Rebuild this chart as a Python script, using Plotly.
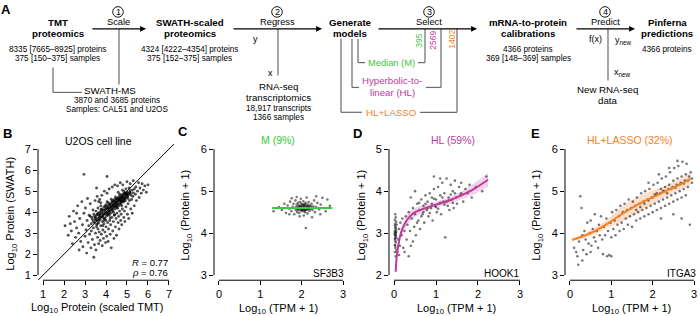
import plotly.graph_objects as go

W, H = 700, 316
FONT = "Liberation Sans, Arial, sans-serif"
GREEN = "#3cc83c"
MAGENTA = "#c0399c"
ORANGE = "#f5821f"
GRAY = "#6a6a6a"

# ---------------- data ----------------
b_pts = [(3.40,3.55),(3.45,3.80),(3.50,3.62),(3.52,4.05),(3.55,3.40),(3.58,3.90),(3.60,3.70),(3.62,4.20),(3.65,3.50),(3.68,3.85),
(3.70,4.00),(3.72,3.65),(3.75,4.30),(3.78,3.78),(3.80,3.95),(3.82,3.55),(3.85,4.10),(3.88,3.88),(3.90,4.25),(3.92,3.70),
(3.95,4.05),(3.97,3.92),(4.00,4.35),(4.02,3.80),(4.05,4.15),(4.07,4.00),(4.10,4.45),(4.12,3.90),(4.15,4.20),(4.17,4.08),
(4.20,4.40),(4.22,3.95),(4.25,4.30),(4.27,4.18),(4.30,4.55),(4.32,4.05),(4.35,4.35),(4.37,4.25),(4.40,4.60),(4.42,4.15),
(4.45,4.45),(4.47,4.32),(4.50,4.65),(4.52,4.22),(4.55,4.50),(4.57,4.40),(4.60,4.72),(4.62,4.30),(4.65,4.58),(4.67,4.48),
(4.70,4.80),(4.72,4.40),(4.75,4.65),(4.77,4.55),(4.80,4.85),(4.82,4.48),(4.85,4.70),(4.87,4.62),(4.90,4.92),(4.92,4.55),
(4.95,4.78),(4.97,4.70),(5.00,4.95),(5.05,4.65),(5.10,4.88),(5.15,5.02),(5.20,4.80),(5.25,5.05),(5.30,4.92),(5.35,5.10),
(3.60,3.45),(3.70,3.80),(3.80,4.15),(3.90,3.60),(4.00,3.95),(4.10,4.20),(4.20,4.05),(4.30,4.40),(4.40,4.30),(4.50,4.48),
(4.60,4.55),(4.70,4.62),(4.80,4.70),(4.90,4.75),(5.00,4.82),(4.05,4.50),(4.25,4.62),(4.45,4.72),(4.65,4.85),(4.85,4.98),
(3.95,3.70),(4.15,3.85),(4.35,4.00),(4.55,4.18),(4.75,4.30),(3.75,4.45),(3.85,3.35),(4.00,3.60),(4.20,3.72),(4.40,3.88),
(3.65,4.50),(4.58,4.95),(4.78,5.05),(4.95,5.10),(5.10,5.15),
(3.48,3.70),(3.58,3.62),(3.63,3.95),(3.73,3.90),(3.83,3.75),(3.93,4.10),(4.03,4.22),(4.13,4.05),(4.23,4.25),(4.33,4.28),
(4.43,4.40),(4.53,4.38),(4.63,4.62),(4.73,4.52),(4.83,4.60),(4.93,4.85),(5.03,4.75),(5.13,4.95),(3.78,4.05),(3.98,4.15),
(4.18,4.32),(4.38,4.50),(4.58,4.65),(4.78,4.78),(4.98,4.90),(3.88,3.98),(4.08,4.30),(4.28,4.48),(4.48,4.58),(4.68,4.70),
(4.88,4.88),(3.68,3.72),(4.12,3.98),(4.32,4.15),(4.52,4.30),(4.72,4.50),(4.92,4.65),(3.55,3.85),(3.45,3.50),(3.35,3.65),
(3.50,3.75),(3.66,3.60),(3.76,4.12),(3.86,3.82),(3.96,4.28),(4.06,3.88),(4.16,4.38),(4.26,4.12),(4.36,4.52),(4.46,4.25),
(4.56,4.60),(4.66,4.38),(4.76,4.72),(4.86,4.52),(4.96,4.88),(5.06,4.82),(5.16,4.90),(3.42,3.90),(3.30,3.45),(3.25,3.80),
(2.05,3.35),(2.20,2.90),(2.25,3.80),(2.35,3.10),(2.40,2.50),(2.45,4.05),(2.50,3.55),(2.55,2.80),(2.60,3.25),(2.65,4.30),
(2.70,3.00),(2.72,2.20),(2.75,3.70),(2.80,2.60),(2.85,4.50),(2.88,3.40),(2.90,2.35),(2.95,3.95),(3.00,2.85),(3.02,4.20),
(3.05,3.15),(3.08,2.05),(3.10,3.60),(3.12,4.65),(3.15,2.55),(3.18,3.35),(3.20,3.85),(3.22,2.95),(3.25,4.40),(3.28,2.30),
(3.30,3.10),(3.32,3.75),(3.35,2.70),(3.38,4.10),(3.40,3.25),(3.42,1.85),(3.45,2.45),(3.48,4.55),(3.50,3.00),(3.52,2.20),
(3.55,3.30),(3.58,4.75),(3.60,2.80),(3.62,3.20),(3.65,2.50),(3.68,3.05),(3.70,4.60),(3.72,2.65),(3.75,3.35),(3.78,2.95),
(3.80,4.80),(3.82,2.40),(3.85,3.15),(3.88,2.75),(3.90,3.45),(3.92,5.00),(3.95,3.05),(3.98,2.55),(4.00,3.30),(4.03,2.85),
(4.05,4.90),(4.08,3.50),(4.10,2.60),(4.12,3.20),(4.15,5.10),(4.18,3.60),(4.20,2.95),(4.22,3.40),(4.25,2.30),(4.28,3.75),
(4.30,5.20),(4.32,3.10),(4.35,3.55),(4.38,2.75),(4.40,3.85),(4.42,5.30),(4.45,3.30),(4.48,3.70),(4.50,2.90),(4.52,3.95),
(4.55,5.25),(4.58,3.50),(4.60,3.80),(4.62,3.20),(4.65,4.05),(4.68,5.40),(4.70,3.60),(4.72,3.90),(4.75,3.40),(4.78,4.15),
(4.80,5.30),(4.85,3.75),(4.88,4.05),(4.90,3.55),(4.95,4.25),(5.00,5.45),(5.02,3.90),(5.05,4.40),(5.08,3.70),(5.12,4.55),
(5.15,5.35),(5.18,4.15),(5.22,4.60),(5.25,3.95),(5.28,4.75),(5.30,5.50),(5.35,4.30),(5.40,4.85),(5.42,5.20),(5.45,4.55),
(5.50,5.00),(5.55,5.40),(5.58,4.70),(5.62,5.15),(5.68,4.90),(5.72,5.35),(5.78,5.05),(5.85,5.25),(5.92,4.95),(6.00,5.30),
(2.95,5.80),(4.05,5.70),(3.55,5.15),(2.60,3.95),(2.30,3.45)]
b_x = [p[0] for p in b_pts]
b_y = [p[1] for p in b_pts]
b_diag = [0.76, 7.24]

c_pts = [(1.32,4.52),(1.45,4.62),(1.52,4.55),(1.58,4.70),(1.62,4.48),(1.66,4.66),(1.70,4.58),(1.72,4.75),(1.75,4.52),(1.78,4.63),
(1.80,4.70),(1.82,4.45),(1.84,4.60),(1.85,4.78),(1.86,4.55),(1.88,4.68),(1.89,4.50),(1.90,4.62),(1.91,4.72),(1.92,4.57),
(1.93,4.66),(1.94,4.48),(1.95,4.60),(1.96,4.74),(1.97,4.54),(1.98,4.64),(1.99,4.70),(2.00,4.58),(2.01,4.52),(2.02,4.66),
(2.03,4.61),(2.04,4.76),(2.05,4.55),(2.06,4.63),(2.07,4.69),(2.08,4.50),(2.09,4.59),(2.10,4.72),(2.11,4.56),(2.12,4.65),
(2.13,4.60),(2.14,4.47),(2.15,4.68),(2.16,4.57),(2.17,4.74),(2.18,4.62),(2.19,4.53),(2.20,4.66),(2.22,4.58),(2.24,4.70),
(2.26,4.55),(2.28,4.64),(2.30,4.78),(2.32,4.50),(2.35,4.62),(2.38,4.72),(2.42,4.57),(2.46,4.68),(2.50,4.84),(2.55,4.60),
(2.62,4.80),(2.68,4.65),(1.95,4.40),(2.05,4.42),(2.10,4.12),(2.25,4.38),(1.98,4.82),(2.12,4.85),(2.35,4.88),(1.88,4.86),
(2.00,4.62),(2.02,4.57),(2.04,4.60),(2.06,4.65),(1.97,4.61),(2.08,4.56),(2.14,4.62),(1.93,4.59),(2.16,4.64),(2.01,4.68),
(1.99,4.55),(2.07,4.60),(2.45,4.45),(1.70,4.45),(2.58,4.52),(1.76,4.83),
(1.96,4.63),(2.03,4.55),(2.09,4.66),(2.11,4.60),(1.94,4.65),(2.05,4.68),(2.13,4.56),(1.99,4.60),(2.18,4.58),(1.91,4.55),
(2.22,4.64),(1.87,4.62),(2.07,4.53),(2.15,4.61)]
c_x = [p[0] for p in c_pts]
c_y = [p[1] for p in c_pts]
c_fit_x = [1.28, 2.74]
c_fit_y = [4.60, 4.60]

d_pts = [(0.02,2.55),(0.03,2.65),(0.02,2.72),(0.04,2.78),(0.03,2.82),(0.02,2.86),(0.05,2.90),(0.03,2.93),(0.02,2.96),(0.04,2.99),
(0.03,3.02),(0.02,3.05),(0.05,3.08),(0.03,3.11),(0.04,3.14),(0.02,3.18),(0.03,3.22),(0.05,3.27),(0.02,3.32),(0.04,3.38),
(0.03,2.88),(0.04,2.95),(0.02,3.00),(0.05,3.03),(0.03,2.70),(0.06,2.60),(0.04,2.45),(0.06,3.20),(0.03,3.45),
(0.08,2.55),(0.10,2.85),(0.12,3.10),(0.14,2.70),(0.15,3.25),(0.18,2.95),(0.20,3.35),(0.22,2.65),(0.25,3.05),(0.28,3.40),
(0.30,2.85),(0.32,3.20),(0.35,3.50),(0.38,3.05),(0.40,2.70),(0.42,3.35),(0.45,3.60),(0.48,3.15),(0.50,3.45),(0.52,2.95),
(0.55,3.70),(0.58,3.30),(0.60,3.55),(0.62,3.10),(0.65,3.80),(0.68,3.45),(0.70,3.65),(0.72,3.25),(0.75,3.90),(0.78,3.55),
(0.80,3.75),(0.82,3.40),(0.85,3.95),(0.88,3.60),(0.90,3.85),(0.92,3.30),(0.95,4.05),(0.98,3.65),(1.00,3.80),(1.02,3.50),
(1.05,4.10),(1.08,3.70),(1.10,3.90),(1.12,3.45),(1.15,4.20),(1.18,3.75),(1.20,3.95),(1.22,2.90),(1.25,4.30),(1.28,3.65),
(1.30,3.85),(1.32,3.55),(1.35,4.15),(1.38,3.80),(1.40,4.00),(1.42,3.60),(1.45,4.25),(1.48,3.85),(1.50,3.70),(1.55,4.10),
(1.58,3.90),(1.60,4.20),(1.65,3.75),(1.70,4.05),(1.75,3.95),(1.80,4.15),(1.85,3.85),(1.95,4.10),(2.10,4.00),(2.20,4.35),
(0.60,3.72),(0.70,3.50),(0.80,3.60),(0.90,3.70),(1.00,3.62),(1.10,3.72),(1.20,3.68),(1.30,3.78),(1.40,3.72),(0.85,3.48),
(0.95,3.82),(1.05,3.58),(1.15,3.85),(1.25,3.75),(1.35,3.92),(0.65,3.40),(0.75,3.70),(1.45,3.95),(0.55,3.25),(1.60,3.95),
(0.25,2.55),(0.35,2.45),(0.45,2.80),(0.12,2.48),(0.40,3.85),(0.50,4.00),(0.95,4.35),(1.10,4.30)]
d_x = [p[0] for p in d_pts]
d_y = [p[1] for p in d_pts]
d_fit_x = [0.04, 0.06, 0.10, 0.15, 0.20, 0.30, 0.40, 0.50, 0.70, 1.00, 1.30, 1.60, 1.90, 2.24]
d_fit_y = [2.08, 2.40, 2.70, 2.95, 3.10, 3.30, 3.42, 3.50, 3.58, 3.68, 3.77, 3.90, 4.05, 4.27]
d_lo = [2.03, 2.34, 2.62, 2.85, 2.98, 3.18, 3.30, 3.39, 3.49, 3.61, 3.69, 3.80, 3.92, 4.11]
d_hi = [2.13, 2.46, 2.78, 3.05, 3.22, 3.42, 3.54, 3.61, 3.67, 3.75, 3.85, 4.00, 4.18, 4.43]

e_pts = [(0.10,3.65),(0.15,3.55),(0.18,3.45),(0.20,3.25),(0.22,3.80),(0.25,4.88),(0.28,4.60),(0.30,3.95),(0.32,3.60),(0.35,4.05),
(0.38,3.85),(0.40,3.50),(0.42,4.25),(0.45,3.75),(0.48,4.00),(0.50,4.30),(0.52,3.70),(0.55,4.10),(0.58,3.90),(0.60,4.45),
(0.62,3.80),(0.65,4.05),(0.68,3.65),(0.70,4.20),(0.72,3.95),(0.75,4.40),(0.78,3.85),(0.80,3.50),(0.82,4.15),(0.85,3.95),
(0.88,4.35),(0.90,3.45),(0.92,4.05),(0.95,3.48),(0.98,4.25),(1.00,3.90),(1.02,4.50),(1.05,4.10),(1.08,4.30),(1.10,3.95),
(1.12,4.55),(1.15,4.20),(1.18,4.40),(1.20,4.05),(1.22,4.65),(1.25,4.25),(1.28,4.50),(1.30,4.10),(1.32,4.70),(1.35,4.35),
(1.38,4.55),(1.40,4.20),(1.42,4.80),(1.45,4.40),(1.48,4.60),(1.50,4.15),(1.52,4.75),(1.55,4.45),(1.58,4.65),(1.60,4.30),
(1.62,4.85),(1.65,4.50),(1.68,4.70),(1.70,4.35),(1.72,4.95),(1.75,4.55),(1.78,4.75),(1.80,4.40),(1.82,5.00),(1.85,4.60),
(1.88,4.80),(1.90,4.45),(1.92,5.05),(1.95,4.65),(1.98,4.85),(2.00,4.50),(2.02,5.15),(2.05,4.70),(2.08,4.90),(2.10,4.55),
(2.12,5.20),(2.15,4.75),(2.18,4.95),(2.20,4.60),(2.22,5.30),(2.25,4.80),(2.28,5.00),(2.30,4.65),(2.32,5.35),(2.35,4.85),
(2.38,5.05),(2.40,4.70),(2.42,5.45),(2.45,4.90),(2.48,5.10),(2.50,4.75),(2.52,5.55),(2.55,4.95),(2.58,5.15),(2.60,4.80),
(2.62,5.60),(2.65,5.00),(2.68,5.20),(2.70,4.85),(2.72,5.70),(2.75,5.05),(2.78,5.25),(2.80,4.90),(2.82,5.65),(2.85,5.10),
(2.88,5.35),(2.90,4.20),(2.92,5.45),(2.95,5.20),(2.60,5.72),(2.40,5.55),(2.15,5.40),(1.90,5.20),(2.70,4.35),(2.50,4.45),
(2.20,4.35),(2.00,4.85),(2.10,4.95),(2.20,5.05),(2.30,5.10),(2.40,5.15),(2.50,5.25),(2.60,5.30),(2.70,5.35),(2.80,5.40),
(1.80,4.70),(1.90,4.78),(2.05,4.92),(2.25,5.00),(2.45,5.05),(2.65,5.15),(2.85,5.25),(1.70,4.62),(1.60,4.55),(2.35,4.95),
(2.55,5.08),(2.75,5.18),(2.95,5.30),(1.00,3.45),(0.30,3.35),(0.50,3.55)]
e_x = [p[0] for p in e_pts]
e_y = [p[1] for p in e_pts]
e_fit_x = [0.05, 0.30, 0.60, 0.90, 1.20, 1.50, 1.80, 2.10, 2.40, 2.70, 2.92]
e_fit_y = [3.84, 3.92, 4.05, 4.22, 4.42, 4.60, 4.76, 4.90, 5.04, 5.18, 5.30]
e_lo = [3.81, 3.87, 3.97, 4.12, 4.25, 4.40, 4.58, 4.75, 4.91, 5.05, 5.15]
e_hi = [3.87, 3.97, 4.13, 4.32, 4.59, 4.80, 4.94, 5.05, 5.17, 5.31, 5.45]

# ---------------- helpers ----------------
def X(px): return px / W
def Y(py): return 1 - py / H

fig = go.Figure()

PT = dict(size=2.6, color="rgba(30,30,30,0.6)")

# panel B
fig.add_trace(go.Scatter(x=b_x, y=b_y, mode="markers", marker=dict(size=2.9, color="rgba(0,0,0,0.68)"), xaxis="x", yaxis="y"))
fig.add_trace(go.Scatter(x=b_diag, y=b_diag, mode="lines", line=dict(color="black", width=1), xaxis="x", yaxis="y"))
# panel C
fig.add_trace(go.Scatter(x=c_x, y=c_y, mode="markers", marker=PT, xaxis="x2", yaxis="y2"))
fig.add_trace(go.Scatter(x=c_fit_x, y=c_fit_y, mode="lines", line=dict(color=GREEN, width=2), xaxis="x2", yaxis="y2"))
# panel D
fig.add_trace(go.Scatter(x=d_fit_x, y=d_hi, mode="lines", line=dict(width=0), xaxis="x3", yaxis="y3"))
fig.add_trace(go.Scatter(x=d_fit_x, y=d_lo, mode="lines", line=dict(width=0), fill="tonexty",
                         fillcolor="rgba(192,57,156,0.22)", xaxis="x3", yaxis="y3"))
fig.add_trace(go.Scatter(x=d_x, y=d_y, mode="markers", marker=PT, xaxis="x3", yaxis="y3"))
fig.add_trace(go.Scatter(x=d_fit_x, y=d_fit_y, mode="lines", line=dict(color=MAGENTA, width=2, shape="spline"), xaxis="x3", yaxis="y3"))
# panel E
fig.add_trace(go.Scatter(x=e_fit_x, y=e_hi, mode="lines", line=dict(width=0), xaxis="x4", yaxis="y4"))
fig.add_trace(go.Scatter(x=e_fit_x, y=e_lo, mode="lines", line=dict(width=0), fill="tonexty",
                         fillcolor="rgba(245,140,70,0.28)", xaxis="x4", yaxis="y4"))
fig.add_trace(go.Scatter(x=e_x, y=e_y, mode="markers", marker=PT, xaxis="x4", yaxis="y4"))
fig.add_trace(go.Scatter(x=e_fit_x, y=e_fit_y, mode="lines", line=dict(color=ORANGE, width=2, shape="spline"), xaxis="x4", yaxis="y4"))

ydom = [Y(281), Y(144)]
ax_common = dict(showgrid=False, zeroline=False, showline=False, ticks="outside", ticklen=4,
                 tickwidth=1, tickcolor="black", tickfont=dict(size=11, color="black", family=FONT))
layout_axes = {}
panels = [
    ("", (38, 174), [0.76, 7.24], [1, 2, 3, 4, 5, 6, 7], [0.76, 7.24], [1, 2, 3, 4, 5, 6, 7]),
    ("2", (214, 348), [-0.12, 3.12], [0, 1, 2, 3], [2.88, 6.12], [3, 4, 5, 6]),
    ("3", (389, 525), [-0.12, 3.12], [0, 1, 2, 3], [1.88, 5.12], [2, 3, 4, 5]),
    ("4", (565, 699), [-0.12, 3.12], [0, 1, 2, 3], [2.88, 6.12], [3, 4, 5, 6]),
]
shapes = []
for s, (l, r), xr, xt, yr, yt in panels:
    layout_axes["xaxis" + s] = dict(ax_common, domain=[X(l), X(r)], range=xr, tickvals=xt, anchor="y" + s)
    layout_axes["yaxis" + s] = dict(ax_common, domain=ydom, range=yr, tickvals=yt, anchor="x" + s)
    xa, ya = "x" + s, "y" + s
    shapes.append(dict(type="line", xref=xa, yref=ya + " domain", x0=xt[0], x1=xt[-1], y0=0, y1=0,
                       line=dict(color="black", width=1)))
    shapes.append(dict(type="line", xref=xa + " domain", yref=ya, x0=0, x1=0, y0=yt[0], y1=yt[-1],
                       line=dict(color="black", width=1)))

# panel A line work
def seg(x0, y0, x1, y1, color=GRAY, w=1.2):
    shapes.append(dict(type="line", xref="paper", yref="paper", x0=X(x0), y0=Y(y0), x1=X(x1), y1=Y(y1),
                       line=dict(color=color, width=w)))

seg(119, 28, 119, 84)
seg(53, 67, 53, 92); seg(53, 92, 82, 92)
seg(278, 28, 278, 75)
seg(358, 38, 358, 62); seg(358, 62, 365, 62); seg(418, 62, 425, 62); seg(425, 62, 425, 28)
seg(352, 38, 352, 87); seg(352, 87, 359, 87); seg(426, 87, 441, 87); seg(441, 87, 441, 28)
seg(341, 38, 341, 112); seg(341, 112, 362, 112); seg(420, 112, 457, 112); seg(457, 112, 457, 28)
seg(608, 28, 608, 80)
for cx in (118, 277, 429, 605):
    shapes.append(dict(type="circle", xref="paper", yref="paper", x0=X(cx - 5.3), x1=X(cx + 5.3),
                       y0=Y(11 + 5.3), y1=Y(11 - 5.3), line=dict(color="black", width=0.9)))

ann = []
def txt(t, x, y, size=9, color="black", xa="center", angle=0, bold=False):
    if bold:
        t = "<b>" + t + "</b>"
    ann.append(dict(text=t, x=X(x), y=Y(y), xref="paper", yref="paper", showarrow=False,
                    xanchor=xa, yanchor="middle", textangle=angle,
                    font=dict(size=size, color=color, family=FONT)))

def arrow(x0, x1, y):
    ann.append(dict(text="", x=X(x1), y=Y(y), xref="paper", yref="paper", ax=x0 - x1, ay=0,
                    axref="pixel", ayref="pixel", showarrow=True, arrowhead=2, arrowsize=0.9,
                    arrowwidth=1.3, arrowcolor="black", standoff=0))

arrow(91, 146, 28); arrow(232, 322, 28); arrow(377, 477, 28); arrow(575, 635, 28)

BS, SS, RS = 9.7, 8.2, 9.7
txt("A", 6, 9, 13, bold=True)
txt("TMT", 58, 22, BS, bold=True); txt("proteomics", 58, 33, BS, bold=True)
txt("8335 [7665–8925] proteins", 58, 49, SS); txt("375 [150–375] samples", 58, 58, SS)
txt("1", 118, 11, 9); txt("Scale", 118, 21, 9.3)
txt("SWATH-scaled", 190, 22, BS, bold=True); txt("proteomics", 190, 33, BS, bold=True)
txt("4324 [4222–4354] proteins", 190, 49, SS); txt("375 [152–375] samples", 190, 58, SS)
txt("SWATH-MS", 110, 90, RS); txt("3870 and 3685 proteins", 117, 100, SS); txt("Samples: CAL51 and U2OS", 117, 109, SS)
txt("2", 277, 11, 9); txt("Regress", 277, 21, 9.3)
txt("y", 255, 38, 9); txt("x", 270, 72, 9)
txt("RNA-seq", 278, 86, RS); txt("transcriptomics", 278, 97, RS)
txt("18,917 transcripts", 278, 108, SS); txt("1366 samples", 278, 117, SS)
txt("Generate", 350, 22, BS, bold=True); txt("models", 350, 33, BS, bold=True)
txt("3", 429, 11, 9); txt("Select", 429, 21, 9.3)
txt("395", 419, 40, 8.5, GREEN, angle=-90); txt("2569", 433, 40, 8.5, MAGENTA, angle=-90)
txt("1402", 452, 39, 8.5, ORANGE, angle=-90)
txt("Median (M)", 391.5, 62, 9.3, GREEN)
txt("Hyperbolic-to-", 392, 80, 9.7, MAGENTA); txt("linear (HL)", 392, 92, 9.7, MAGENTA)
txt("HL+LASSO", 391, 112, 9.7, ORANGE)
txt("mRNA-to-protein", 528, 22, BS, bold=True); txt("calibrations", 528, 33, BS, bold=True)
txt("4366 proteins", 528, 49, SS); txt("369 [148–369] samples", 528, 58, SS)
txt("4", 605, 11, 9); txt("Predict", 605, 21, 9.3)
txt("f(x)", 595, 38, 9); txt("y<sub>new</sub>", 623, 40, 9); txt("x<sub>new</sub>", 622, 72, 9)
txt("New RNA-seq", 607, 89, RS); txt("data", 607, 100, RS)
txt("Pinferna", 667, 22, BS, bold=True); txt("predictions", 667, 33, BS, bold=True)
txt("4366 proteins", 667, 49, SS)

# panel B-E text
txt("B", 7, 133, 13, bold=True); txt("C", 183, 131, 13, bold=True)
txt("D", 357, 133, 13, bold=True); txt("E", 535, 133, 13, bold=True)
txt("U2OS cell line", 98, 141, 10.5)
txt("M (9%)", 278, 140, 10.5, GREEN); txt("HL (59%)", 453, 140, 10.5, MAGENTA)
txt("HL+LASSO (32%)", 630, 140, 10.5, ORANGE)
txt("<i>R</i> = 0.77", 170, 263, 9.5, xa="right"); txt("<i>ρ</i> = 0.76", 170, 273, 9.5, xa="right")
txt("SF3B3", 346, 274, 10, xa="right"); txt("HOOK1", 521, 274, 10, xa="right"); txt("ITGA3", 698, 274, 10, xa="right")
txt("Log<sub>10</sub> Protein (SWATH)", 11, 214, 11, angle=-90)
txt("Log<sub>10</sub> Protein (scaled TMT)", 97, 309, 11)
for x in (186, 362, 537):
    txt("Log<sub>10</sub> (Protein + 1)", x, 216, 11, angle=-90)
for x in (278, 456, 631):
    txt("Log<sub>10</sub> (TPM + 1)", x, 310, 11)

fig.update_layout(width=W, height=H, margin=dict(l=0, r=0, t=0, b=0), showlegend=False,
                  plot_bgcolor="white", paper_bgcolor="white", font=dict(family=FONT),
                  shapes=shapes, annotations=ann, **layout_axes)
fig.write_html("out.html", config={"displayModeBar": False},
               post_script="document.body.style.margin='0';document.body.style.overflow='hidden';"
                           "document.documentElement.style.overflow='hidden';")
